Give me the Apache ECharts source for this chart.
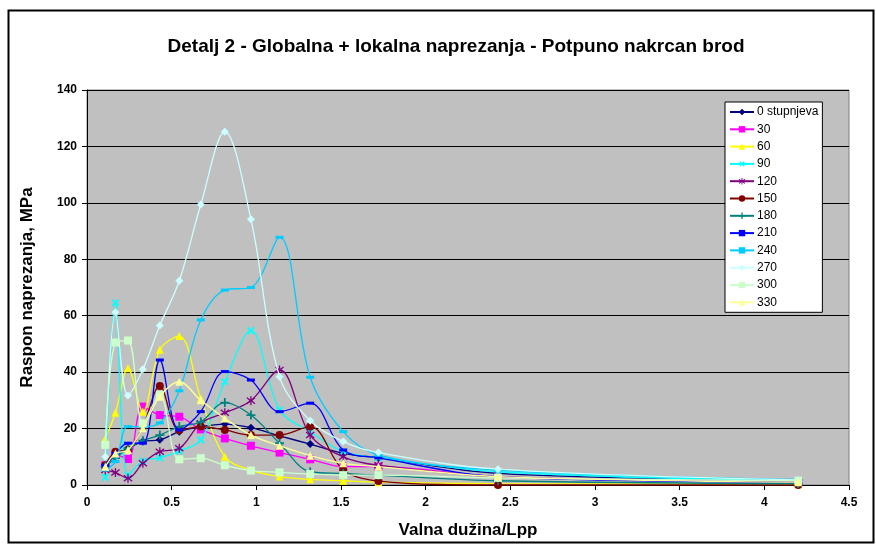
<!DOCTYPE html>
<html>
<head>
<meta charset="utf-8">
<script src="https://cdn.jsdelivr.net/npm/echarts@6/dist/echarts.min.js"></script>
<style>
  html, body { margin: 0; padding: 0; background: #fff; }
  #chart { width: 876px; height: 547px; }
</style>
</head>
<body>
<div id="chart"></div>
<script>
// Wave length ratio (lambda / Lpp) at which stresses were evaluated
const waveLength = [0.108, 0.168, 0.242, 0.33, 0.43, 0.545, 0.672, 0.814, 0.968, 1.137, 1.318, 1.513, 1.721, 2.427, 4.2];

// Heading angles (legend labels)
const headings = ['0 stupnjeva', '30', '60', '90', '120', '150', '180', '210', '240', '270', '300', '330'];

// Stress range, MPa, one array per heading
const s0   = [6.5, 10.6, 13.0, 15.4, 16.0, 18.9, 20.7, 21.6, 20.3, 17.4, 14.5, 11.2, 9.7, 4.1, 1.5];
const s30  = [7.0, 10.8, 9.2, 27.8, 24.8, 24.2, 19.7, 16.5, 13.9, 11.5, 9.1, 6.5, 6.5, 3.0, 1.0];
const s60  = [16.5, 25.6, 41.4, 26.0, 47.9, 52.8, 30.7, 10.0, 5.3, 3.0, 2.0, 1.5, 1.0, 0.5, 0.3];
const s90  = [2.7, 64.6, 3.5, 8.5, 9.6, 12.0, 16.0, 36.6, 54.7, 26.6, 18.9, 11.8, 9.7, 4.7, 1.5];
const s120 = [5.3, 4.4, 2.4, 7.7, 11.8, 13.0, 21.9, 25.6, 29.9, 40.8, 17.7, 10.0, 7.0, 3.0, 1.0];
const s150 = [7.0, 11.8, 12.4, 20.7, 35.1, 19.5, 20.7, 19.5, 17.7, 17.7, 20.7, 5.3, 1.4, 0.0, 0.0];
const s180 = [6.5, 9.5, 13.0, 15.7, 17.7, 20.7, 22.4, 29.2, 24.8, 14.8, 4.7, 4.1, 3.5, 1.5, 0.5];
const s210 = [7.0, 11.2, 14.8, 14.8, 44.3, 19.5, 26.0, 40.2, 37.2, 26.0, 29.0, 12.4, 9.6, 3.0, 1.0];
const s240 = [5.3, 8.3, 20.7, 20.7, 22.0, 33.4, 58.5, 69.1, 70.0, 87.8, 38.2, 18.9, 10.6, 5.3, 2.0];
const s270 = [10.0, 61.2, 31.7, 41.0, 56.5, 72.4, 99.4, 125.2, 94.2, 38.4, 22.8, 15.4, 11.5, 5.6, 1.8];
const s300 = [14.2, 50.5, 51.2, 21.9, 32.0, 9.1, 9.5, 7.0, 5.1, 4.5, 3.9, 3.5, 3.5, 2.5, 1.5];
const s330 = [6.5, 11.2, 12.4, 20.1, 31.3, 36.6, 30.0, 23.6, 17.7, 13.9, 10.4, 7.7, 6.5, 3.0, 1.0];

const seriesValues = [s0, s30, s60, s90, s120, s150, s180, s210, s240, s270, s300, s330];

// Tick values
const xTicks = [0, 0.5, 1, 1.5, 2, 2.5, 3, 3.5, 4, 4.5];
const yTicks = [0, 20, 40, 60, 80, 100, 120, 140];

// Marker shapes
const plusPath = 'path://M4,0H6V4H10V6H6V10H4V6H0V4H4Z';
const starPath = 'path://M4.3,0H5.7V3.8L8.9,1.1L9.8,2.2L6.6,5L9.8,7.8L8.9,8.9L5.7,6.2V10H4.3V6.2L1.1,8.9L0.2,7.8L3.4,5L0.2,2.2L1.1,1.1L4.3,3.8Z';

const styles = [
  { color: '#000080', symbol: 'diamond', size: 8 },
  { color: '#FF00FF', symbol: 'rect', size: 8 },
  { color: '#FFFF00', symbol: 'triangle', size: 8 },
  { color: '#00FFFF', symbol: plusPath, size: 9, rotate: 45 },
  { color: '#800080', symbol: starPath, size: 9 },
  { color: '#800000', symbol: 'circle', size: 8 },
  { color: '#008080', symbol: plusPath, size: 9 },
  { color: '#0000FF', symbol: 'rect', size: [8, 3] },
  { color: '#00CCFF', symbol: 'rect', size: [8, 3] },
  { color: '#CCFFFF', symbol: 'diamond', size: 8 },
  { color: '#CCFFCC', symbol: 'rect', size: 8 },
  { color: '#FFFF99', symbol: 'triangle', size: 8 }
];

const FONT = '"Liberation Sans", Arial, sans-serif';

const series = headings.map((name, i) => ({
  name: name,
  type: 'line',
  smooth: 0.35,
  data: waveLength.map((x, k) => [x, seriesValues[i][k]]),
  symbol: styles[i].symbol,
  symbolSize: styles[i].size,
  symbolRotate: styles[i].rotate || 0,
  showAllSymbol: true,
  lineStyle: { color: styles[i].color, width: 1.3 },
  itemStyle: { color: styles[i].color },
  emphasis: { disabled: true },
  z: 2 + i
}));

const chart = echarts.init(document.getElementById('chart'), null, { renderer: 'canvas' });
chart.setOption({
  animation: false,
  backgroundColor: '#ffffff',
  textStyle: { fontFamily: FONT },
  title: {
    text: 'Detalj 2 - Globalna + lokalna naprezanja - Potpuno nakrcan brod',
    left: 451, top: 32, textAlign: 'center',
    textStyle: { fontFamily: FONT, fontSize: 19, fontWeight: 'bold', color: '#000' }
  },
  graphic: [{
    type: 'rect', left: 6, top: 8,
    shape: { width: 865, height: 532 },
    style: { fill: 'none', stroke: '#000', lineWidth: 2 }, silent: true, z: 100
  }],
  legend: {
    orient: 'vertical',
    left: 725, top: 102,
    backgroundColor: '#ffffff',
    borderColor: '#000', borderWidth: 1,
    padding: [4, 4, 4, 4],
    itemWidth: 24, itemHeight: 8, itemGap: 5.3,
    textStyle: { fontFamily: FONT, fontSize: 12, color: '#000', padding: [0, 0, 0, -2] },
    data: headings
  },
  grid: {
    left: 87, right: 27, top: 90, bottom: 62,
    show: true, backgroundColor: '#C0C0C0', borderColor: '#808080', borderWidth: 1
  },
  xAxis: {
    type: 'value', min: 0, max: 4.5, interval: 0.5,
    name: 'Valna dužina/Lpp', nameLocation: 'middle', nameGap: 37,
    nameTextStyle: { fontFamily: FONT, fontSize: 17, fontWeight: 'bold', color: '#000' },
    axisLine: { show: true, lineStyle: { color: '#000', width: 1 } },
    axisTick: { show: true, inside: false, length: 5, lineStyle: { color: '#000' } },
    axisLabel: {
      fontFamily: FONT, fontSize: 12, fontWeight: 'bold', color: '#000', margin: 12,
      formatter: v => xTicks.includes(v) ? String(v) : ''
    },
    splitLine: { show: false }
  },
  yAxis: {
    type: 'value', min: 0, max: 140, interval: 20,
    name: 'Raspon naprezanja, MPa', nameLocation: 'middle', nameGap: 51,
    nameTextStyle: { fontFamily: FONT, fontSize: 17, fontWeight: 'bold', color: '#000' },
    axisLine: { show: true, lineStyle: { color: '#000', width: 1 } },
    axisTick: { show: true, inside: false, length: 5, lineStyle: { color: '#000' } },
    axisLabel: {
      fontFamily: FONT, fontSize: 12, fontWeight: 'bold', color: '#000', margin: 10,
      formatter: v => yTicks.includes(v) ? String(v) : ''
    },
    splitLine: { show: true, lineStyle: { color: '#000', width: 1 } }
  },
  series: series
});
</script>
</body>
</html>
